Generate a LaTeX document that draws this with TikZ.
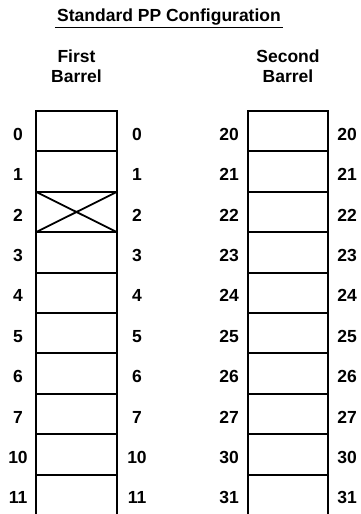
\documentclass[tikz,border=0pt]{standalone}
\usepackage{fontspec}
\setmainfont{Liberation Sans}
\usetikzlibrary{positioning}

\begin{document}
\begin{tikzpicture}[x=1pt, y=1pt, font=\bfseries\fontsize{17.5}{20}\selectfont, cell/.style={draw, line width=2pt, minimum width=81pt, minimum height=40.4pt, outer sep=0pt, inner sep=0pt}, num/.style={inner sep=0pt, yshift=-3pt}, heading/.style={align=center, inner sep=0pt}, cross/.style={line width=1.8pt}]
\useasboundingbox (0,0) rectangle (360,-514);
\node[inner sep=2pt] (title) at (169,-17) {Standard\ PP\ Configuration};
\draw[line width=1.4pt] (title.south west) -- (title.south east);
% first barrel
\node[cell] (f0) at (76.5,-131.2) {};
\foreach \i [remember=\i as \j (initially 0)] in {1,...,9}
  \node[cell, below=0pt of f\j] (f\i) {};
% second barrel
\node[cell, minimum width=80pt] (s0) at (288,-131.2) {};
\foreach \i [remember=\i as \j (initially 0)] in {1,...,9}
  \node[cell, minimum width=80pt, below=0pt of s\j] (s\i) {};
\node[heading, above=28pt of f0] (fhead) {First\\Barrel};
\node[heading, above=28pt of s0] (shead) {Second\\Barrel};
\draw[cross] (f2.north west) -- (f2.south east) (f2.south west) -- (f2.north east);
% register numbers
\foreach \lab [count=\i from 0] in {0,1,2,3,4,5,6,7,10,11} {
  \node[num] (fl\i) at ([xshift=-18pt]f\i.west) {\lab};
  \node[num] (fr\i) at ([xshift=20pt]f\i.east) {\lab};
}
\foreach \lab [count=\i from 0] in {20,21,22,23,24,25,26,27,30,31} {
  \node[num] (sl\i) at ([xshift=-19pt]s\i.west) {\lab};
  \node[num] (sr\i) at ([xshift=19pt]s\i.east) {\lab};
}
\end{tikzpicture}
\end{document}
